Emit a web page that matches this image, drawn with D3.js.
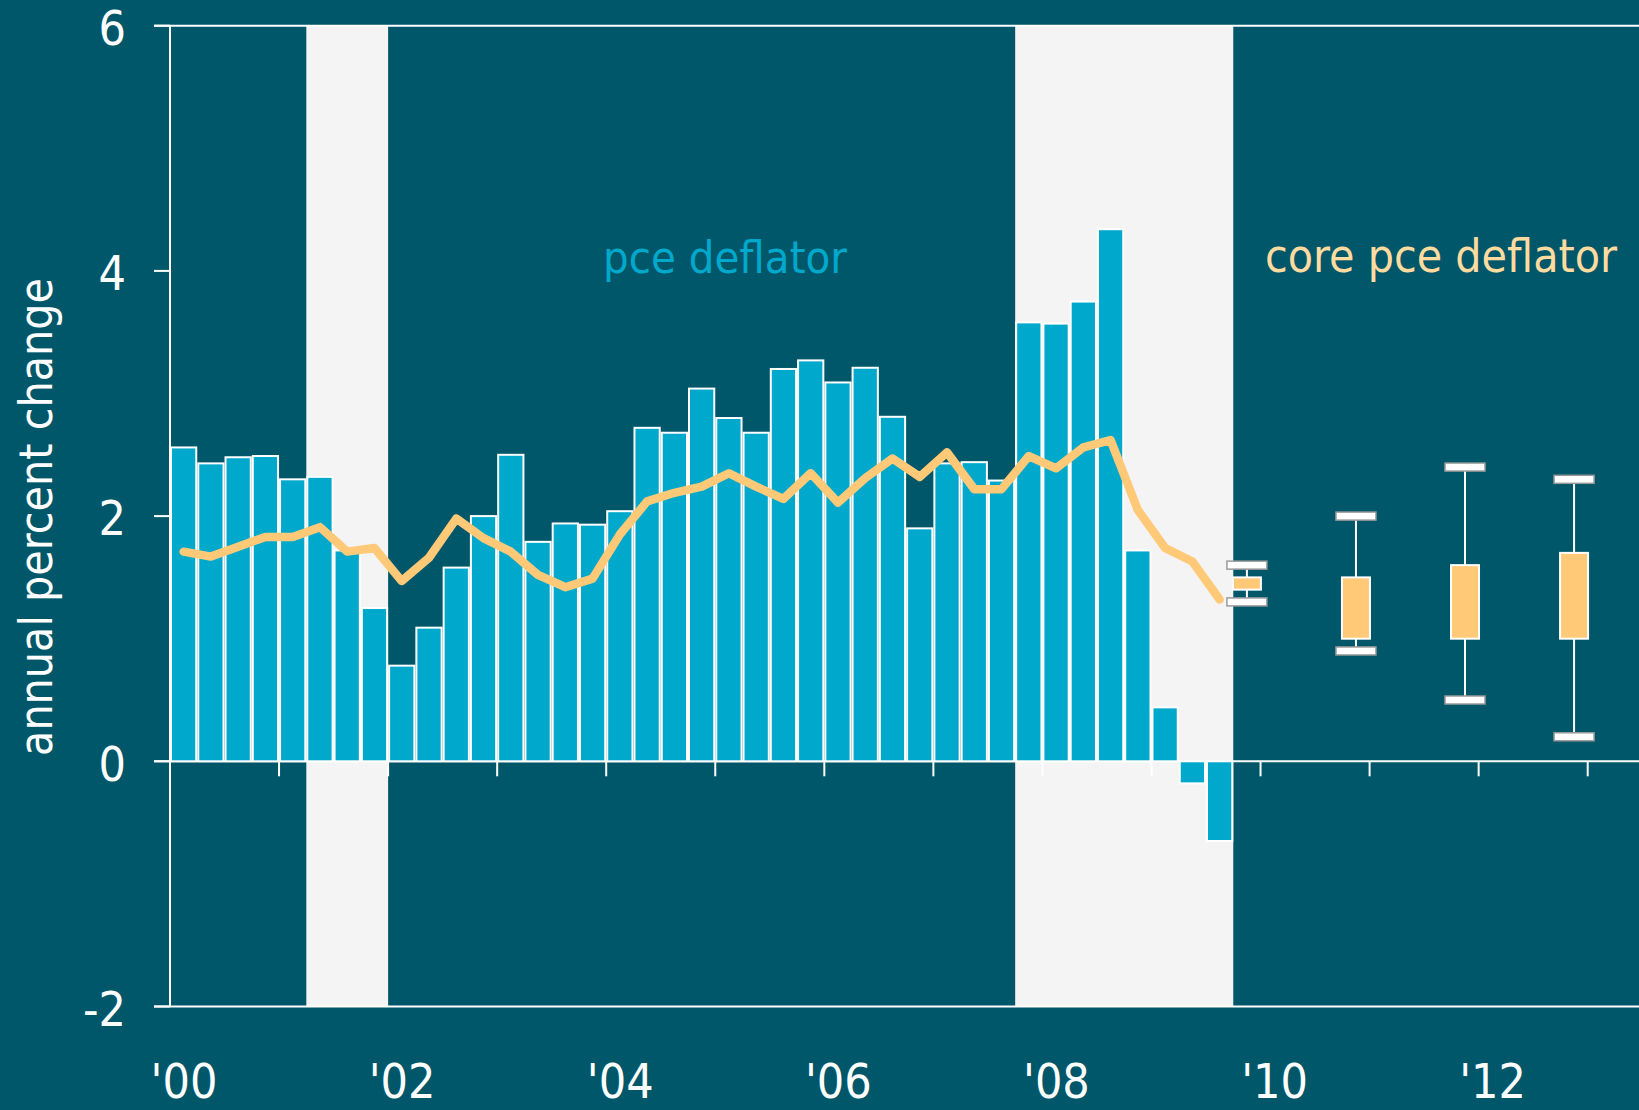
<!DOCTYPE html>
<html>
<head>
<meta charset="utf-8">
<script src="https://cdn.jsdelivr.net/npm/d3@7"></script>
<style>
  html, body { margin: 0; padding: 0; background: #00576a; }
  svg { display: block; }
  text { font-family: "DejaVu Sans Condensed", "DejaVu Sans", sans-serif; font-stretch: condensed; }
</style>
</head>
<body>
<div id="chart"></div>
<script>
// pce deflator, quarterly from 2000Q1 (annual percent change)
var pce = [2.56, 2.43, 2.48, 2.49, 2.30, 2.32, 1.72, 1.25, 0.78, 1.09, 1.58, 2.00, 2.50,
    1.79, 1.94, 1.93, 2.04, 2.72, 2.68, 3.04, 2.80, 2.68, 3.20, 3.27, 3.09, 3.21, 2.81,
    1.90, 2.43, 2.44, 2.29, 3.58, 3.57, 3.75, 4.34, 1.72, 0.44, -0.18, -0.65];

// core pce deflator, same quarters
var core = [1.71, 1.67, 1.75, 1.83, 1.83, 1.91, 1.71, 1.74, 1.47, 1.66, 1.98, 1.82, 1.71,
    1.52, 1.42, 1.49, 1.85, 2.12, 2.19, 2.24, 2.35, 2.24, 2.14, 2.35, 2.11, 2.31, 2.47,
    2.32, 2.52, 2.22, 2.22, 2.49, 2.39, 2.56, 2.62, 2.05, 1.74, 1.63, 1.32];

var startYear = 2000;

// recessions (decimal years)
var recessions = [[2001.25, 2002.0], [2007.75, 2009.75]];

// core pce projections: range and central tendency
var projYears = [2009, 2010, 2011, 2012];
var rangeLow = [1.3, 0.9, 0.5, 0.2];
var rangeHigh = [1.6, 2.0, 2.4, 2.3];
var centralLow = [1.4, 1.0, 1.0, 1.0];
var centralHigh = [1.5, 1.5, 1.6, 1.7];

var yTicks = [-2, 0, 2, 4, 6];
var yearLabels = [2000, 2002, 2004, 2006, 2008, 2010, 2012];

var W = 1639, H = 1110;
var bg = "#00576a", barColor = "#00a8cc", lineColor = "#ffc977",
    shade = "#f4f4f4", coreText = "#ffdba0";

var svg = d3.select("#chart").append("svg")
    .attr("width", W)
    .attr("height", H);

svg.append("rect").attr("width", W).attr("height", H).attr("fill", bg);

var x = d3.scaleLinear().domain([2000, 2013]).range([170, 1587.7]);
var y = d3.scaleLinear().domain([-2, 6]).range([1006.5, 25.7]);

var left = 170, tickStart = 154;

// recession shading
svg.selectAll(".rec")
    .data(recessions)
    .enter().append("rect")
        .attr("class", "rec")
        .attr("x", function(d) { return x(d[0]); })
        .attr("width", function(d) { return x(d[1]) - x(d[0]); })
        .attr("y", y(6))
        .attr("height", y(-2) - y(6))
        .attr("fill", shade);

// horizontal rules: top, zero, bottom
[6, 0, -2].forEach(function(v) {
    svg.append("line")
        .attr("x1", tickStart).attr("x2", W)
        .attr("y1", y(v)).attr("y2", y(v))
        .attr("stroke", "white").attr("stroke-width", 2);
});

// yearly ticks below zero line
svg.selectAll(".xtick")
    .data(d3.range(2001, 2014))
    .enter().append("line")
        .attr("class", "xtick")
        .attr("x1", function(d) { return x(d); })
        .attr("x2", function(d) { return x(d); })
        .attr("y1", y(0))
        .attr("y2", y(0) + 15)
        .attr("stroke", "white")
        .attr("stroke-width", 2);

// bars
var qx = function(i) { return x(startYear + i / 4); };
svg.selectAll(".bar")
    .data(pce)
    .enter().append("rect")
        .attr("class", "bar")
        .attr("x", function(d, i) { return qx(i) + 1; })
        .attr("width", function(d, i) { return qx(i + 1) - qx(i) - 2; })
        .attr("y", function(d) { return y(Math.max(0, d)); })
        .attr("height", function(d) { return Math.abs(y(d) - y(0)); })
        .attr("fill", barColor)
        .attr("stroke", "white")
        .attr("stroke-width", 2);

// y axis
svg.append("line")
    .attr("x1", left).attr("x2", left)
    .attr("y1", y(6)).attr("y2", y(-2))
    .attr("stroke", "white").attr("stroke-width", 2);

svg.selectAll(".ytick")
    .data(yTicks)
    .enter().append("line")
        .attr("x1", tickStart).attr("x2", left)
        .attr("y1", function(d) { return y(d); })
        .attr("y2", function(d) { return y(d); })
        .attr("stroke", "white").attr("stroke-width", 2);

svg.selectAll(".ylabel")
    .data(yTicks)
    .enter().append("text")
        .attr("x", 126)
        .attr("y", function(d) { return y(d) + 2; })
        .attr("dy", "0.36em")
        .attr("text-anchor", "end")
        .attr("fill", "white")
        .attr("font-size", 48)
        .text(function(d) { return d; });

svg.append("text")
    .attr("transform", "translate(52,517)rotate(-90)")
    .attr("text-anchor", "middle")
    .attr("fill", "white")
    .attr("font-size", 46)
    .text("annual percent change");

// year labels
svg.selectAll(".xlabel")
    .data(yearLabels)
    .enter().append("text")
        .attr("x", function(d) { return x(d) + 14; })
        .attr("y", 1098)
        .attr("text-anchor", "middle")
        .attr("fill", "white")
        .attr("font-size", 48)
        .text(function(d) { return "'" + String(d).slice(2); });

// core pce line
var line = d3.line()
    .x(function(d, i) { return (qx(i) + qx(i + 1)) / 2; })
    .y(function(d) { return y(d); });

svg.append("path")
    .datum(core)
    .attr("d", line)
    .attr("fill", "none")
    .attr("stroke", lineColor)
    .attr("stroke-width", 8.5)
    .attr("stroke-linejoin", "round")
    .attr("stroke-linecap", "round");

// projections, drawn at the fourth quarter of each year
var proj = svg.selectAll(".proj")
    .data(projYears)
    .enter().append("g")
        .attr("class", "proj")
        .attr("transform", function(d) { return "translate(" + x(d + 0.875) + ",0)"; });

proj.append("line")
    .attr("y1", function(d, i) { return y(rangeHigh[i]); })
    .attr("y2", function(d, i) { return y(rangeLow[i]); })
    .attr("stroke", "white").attr("stroke-width", 2);

proj.append("rect")
    .attr("x", -14).attr("width", 28)
    .attr("y", function(d, i) { return y(centralHigh[i]); })
    .attr("height", function(d, i) { return y(centralLow[i]) - y(centralHigh[i]); })
    .attr("fill", lineColor)
    .attr("stroke", "white").attr("stroke-width", 2);

[rangeHigh, rangeLow].forEach(function(arr) {
    proj.append("rect")
        .attr("x", -20).attr("width", 40)
        .attr("y", function(d, i) { return y(arr[i]) - 4; })
        .attr("height", 8)
        .attr("fill", "white")
        .attr("stroke", "#9a9a9a").attr("stroke-width", 1.5);
});

// series labels
svg.append("text")
    .attr("x", 603).attr("y", 273)
    .attr("fill", barColor)
    .attr("font-size", 45)
    .text("pce deflator");

svg.append("text")
    .attr("x", 1265).attr("y", 272)
    .attr("fill", coreText)
    .attr("font-size", 46)
    .text("core pce deflator");
</script>
</body>
</html>
